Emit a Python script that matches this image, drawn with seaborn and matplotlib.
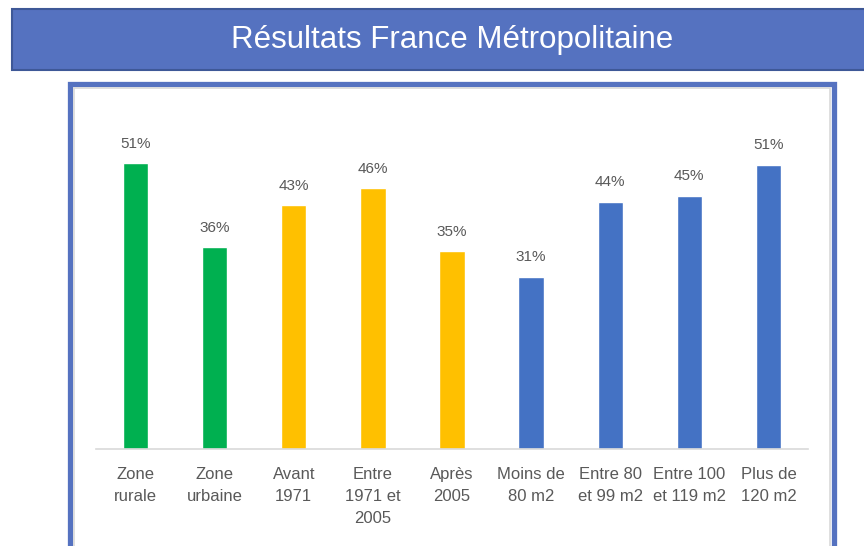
import matplotlib
matplotlib.use("Agg")
import matplotlib.pyplot as plt
import seaborn as sns
import pandas as pd
from matplotlib.patches import Rectangle

# données (hauteurs des barres et étiquettes affichées)
categories = ["Zone\nrurale", "Zone\nurbaine", "Avant\n1971", "Entre\n1971 et\n2005",
              "Après\n2005", "Moins de\n80 m2", "Entre 80\net 99 m2", "Entre 100\net 119 m2",
              "Plus de\n120 m2"]
values = [50.9, 35.9, 43.4, 46.4, 35.2, 30.7, 44.0, 45.1, 50.6]
pct_labels = ["51%", "36%", "43%", "46%", "35%", "31%", "44%", "45%", "51%"]
colors = ["#00B050", "#00B050", "#FFC000", "#FFC000", "#FFC000",
          "#4472C4", "#4472C4", "#4472C4", "#4472C4"]
title = "Résultats France Métropolitaine"

sns.set_theme(style="white")
plt.rcParams["font.family"] = ["Liberation Sans", "DejaVu Sans"]

W, H = 864, 546
fig = plt.figure(figsize=(W / 100, H / 100), dpi=100)
fig.patch.set_facecolor("white")

# bandeau du titre
fig.add_artist(Rectangle((12 / W, 1 - 70 / H), (W + 10 - 12) / W, 61 / H,
                         transform=fig.transFigure, facecolor="#5572C0",
                         edgecolor="#3E5897", linewidth=1.5, clip_on=False, zorder=-2))
fig.text(452 / W, 1 - 40 / H, title, color="white", fontsize=22.5,
         ha="center", va="center")

# cadre du graphique
fig.add_artist(Rectangle((69.5 / W, -0.05), (833.5 - 69.5) / W, 1.05 - 84.5 / H,
                         transform=fig.transFigure, facecolor="white",
                         edgecolor="#5572C0", linewidth=3.8, clip_on=False, zorder=-2))
fig.add_artist(Rectangle((73.5 / W, -0.05), (829.5 - 73.5) / W, 1.05 - 88.5 / H,
                         transform=fig.transFigure, facecolor="none",
                         edgecolor="#D9D9D9", linewidth=1.2, clip_on=False, zorder=-1))

ax = fig.add_axes([96 / W, 1 - 449.3 / H, (808 - 96) / W, (449.3 - 112) / H])
df = pd.DataFrame({"cat": categories, "val": values, "lab": pct_labels})
sns.barplot(data=df, x="cat", y="val", hue="cat", palette=colors, legend=False,
            width=0.32, saturation=1, ax=ax)

# un conteneur par catégorie (hue)
for c, lab in zip(ax.containers, pct_labels):
    ax.bar_label(c, labels=[lab], padding=9, fontsize=11, color="#595959")

ax.set_xlim(-0.5, len(categories) - 0.5)
ax.set_ylim(0, 60)
ax.set_xlabel("")
ax.set_ylabel("")
ax.set_yticks([])
ax.tick_params(axis="x", length=0, pad=13, labelsize=12, labelcolor="#595959")
for lab in ax.get_xticklabels():
    lab.set_linespacing(1.57)
for s in ["top", "left", "right"]:
    ax.spines[s].set_visible(False)
ax.spines["bottom"].set_color("#D9D9D9")
ax.spines["bottom"].set_linewidth(1.2)
ax.patch.set_alpha(0)

fig.savefig("out.png", dpi=100)
